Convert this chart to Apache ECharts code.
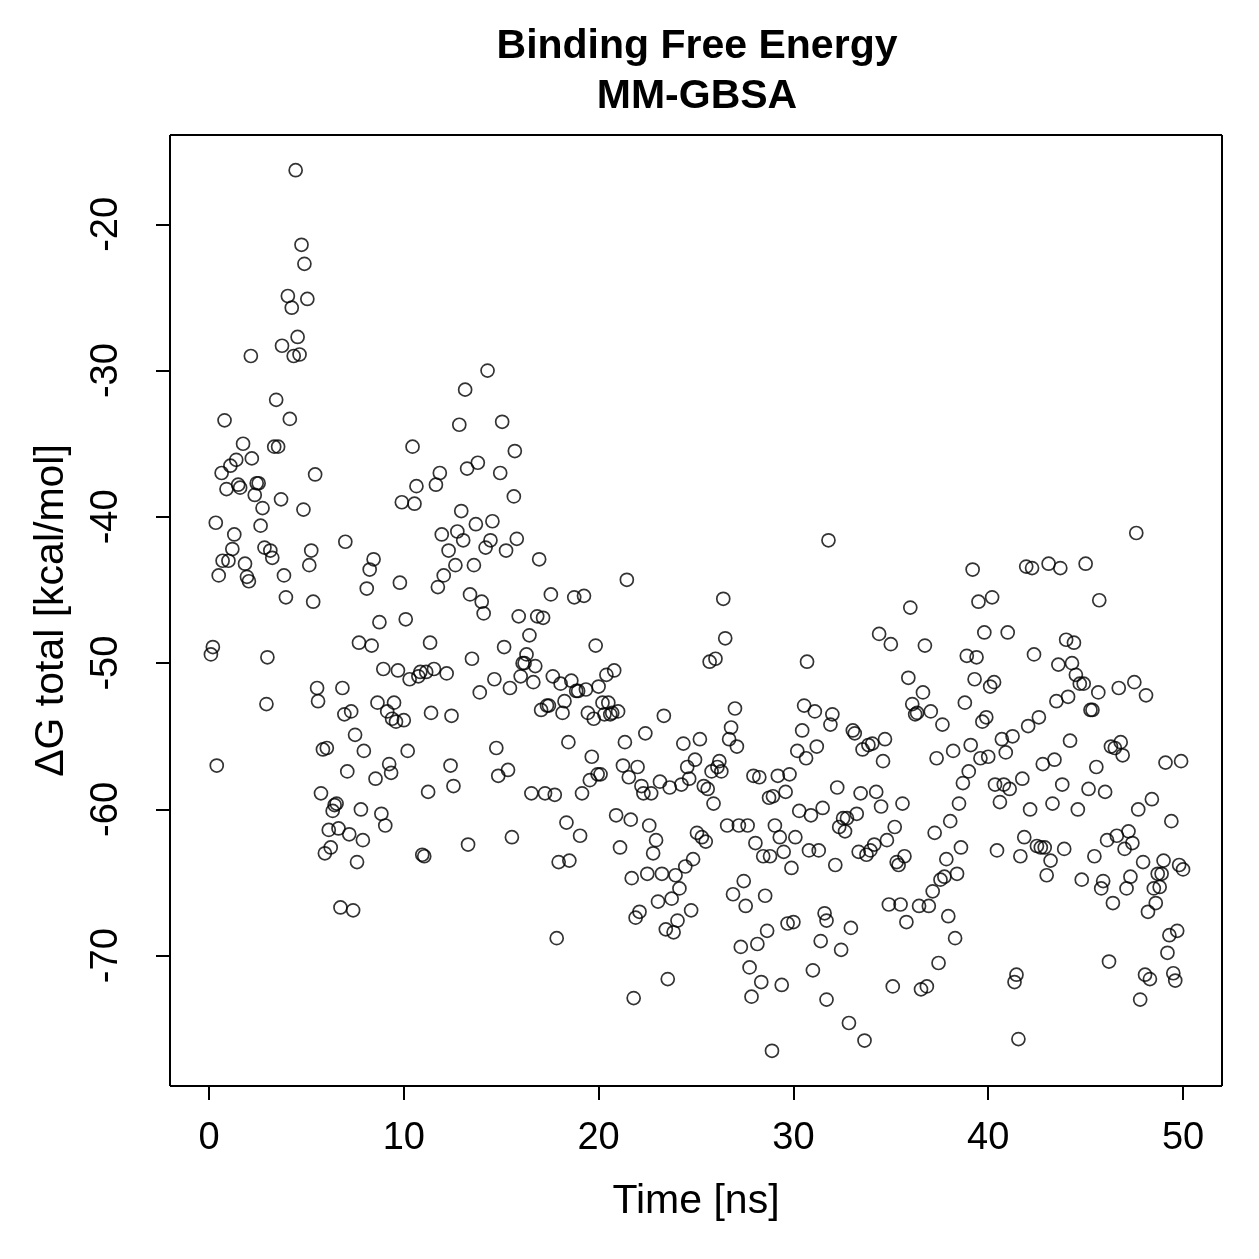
<!DOCTYPE html>
<html>
<head>
<meta charset="utf-8">
<script src="https://cdn.jsdelivr.net/npm/echarts@6/dist/echarts.min.js"></script>
<style>
html,body{margin:0;padding:0;background:#fff;}
#chart{width:1259px;height:1259px;}
</style>
</head>
<body>
<div id="chart"></div>
<script>
const titleLines = ["Binding Free Energy", "MM-GBSA"];
const xLabel = "Time [ns]";
const yLabel = "\u0394G total [kcal/mol]";
const xTicks = [0, 10, 20, 30, 40, 50];
const yTicks = [-70, -60, -50, -40, -30, -20];

const timeNs = [
0.1,0.2,0.35,0.4,0.5,0.65,0.7,0.8,0.9,1.0,
1.1,1.2,1.3,1.4,1.5,1.6,1.75,1.85,1.95,2.05,
2.15,2.2,2.35,2.45,2.55,2.65,2.75,2.85,2.95,3.0,
3.15,3.25,3.35,3.45,3.55,3.7,3.75,3.85,3.95,4.05,
4.15,4.25,4.35,4.45,4.55,4.65,4.75,4.85,4.9,5.05,
5.15,5.25,5.35,5.45,5.55,5.6,5.75,5.85,5.95,6.05,
6.15,6.25,6.35,6.45,6.55,6.65,6.75,6.85,6.95,7.0,
7.1,7.2,7.3,7.4,7.5,7.6,7.7,7.8,7.9,7.95,
8.1,8.25,8.35,8.45,8.55,8.65,8.75,8.85,8.95,9.05,
9.15,9.25,9.35,9.4,9.5,9.6,9.7,9.8,9.9,10.0,
10.1,10.2,10.3,10.45,10.55,10.65,10.75,10.85,10.95,11.05,
11.15,11.25,11.35,11.4,11.55,11.65,11.75,11.85,11.95,12.05,
12.2,12.3,12.4,12.45,12.55,12.65,12.75,12.85,12.95,13.05,
13.15,13.25,13.3,13.4,13.5,13.6,13.7,13.8,13.9,14.0,
14.1,14.2,14.3,14.45,14.55,14.65,14.75,14.85,14.95,15.05,
15.15,15.25,15.35,15.45,15.55,15.65,15.7,15.8,15.9,16.0,
16.1,16.2,16.3,16.45,16.55,16.65,16.75,16.85,16.95,17.05,
17.15,17.25,17.35,17.45,17.55,17.65,17.75,17.85,17.95,18.05,
18.15,18.25,18.35,18.45,18.5,18.6,18.75,18.85,18.95,19.05,
19.15,19.25,19.35,19.45,19.55,19.65,19.75,19.85,19.95,20.0,
20.1,20.2,20.3,20.4,20.5,20.6,20.7,20.8,20.9,21.0,
21.1,21.25,21.35,21.45,21.55,21.65,21.7,21.8,21.9,22.0,
22.1,22.2,22.3,22.4,22.5,22.6,22.7,22.8,22.95,23.05,
23.15,23.25,23.35,23.45,23.55,23.65,23.75,23.85,23.95,24.05,
24.15,24.25,24.35,24.45,24.55,24.65,24.75,24.85,24.95,25.05,
25.2,25.3,25.4,25.5,25.6,25.7,25.8,25.9,26.0,26.1,
26.2,26.3,26.4,26.5,26.6,26.7,26.8,26.9,27.0,27.1,
27.2,27.3,27.45,27.55,27.65,27.75,27.85,27.95,28.05,28.15,
28.25,28.35,28.45,28.55,28.65,28.75,28.8,28.9,28.95,29.05,
29.2,29.3,29.4,29.5,29.6,29.7,29.8,29.9,30.0,30.1,
30.2,30.3,30.45,30.55,30.65,30.7,30.8,30.9,31.0,31.1,
31.2,31.3,31.4,31.5,31.6,31.7,31.7,31.8,31.9,32.0,
32.15,32.25,32.35,32.45,32.55,32.65,32.75,32.85,32.95,33.05,
33.15,33.25,33.35,33.45,33.55,33.65,33.75,33.85,33.95,34.05,
34.15,34.25,34.4,34.5,34.6,34.7,34.8,34.9,35.0,35.1,
35.2,35.3,35.4,35.5,35.6,35.7,35.8,35.9,36.0,36.1,
36.25,36.35,36.45,36.55,36.65,36.75,36.85,36.95,37.05,37.15,
37.25,37.35,37.45,37.55,37.65,37.75,37.85,37.95,38.05,38.2,
38.3,38.4,38.5,38.6,38.7,38.8,38.9,39.0,39.1,39.2,
39.3,39.4,39.5,39.6,39.7,39.8,39.9,40.0,40.1,40.2,
40.3,40.35,40.45,40.6,40.7,40.8,40.9,41.0,41.1,41.25,
41.35,41.45,41.55,41.65,41.75,41.85,41.95,42.05,42.15,42.25,
42.35,42.5,42.6,42.7,42.8,42.9,43.0,43.1,43.2,43.3,
43.4,43.5,43.6,43.7,43.8,43.9,44.0,44.1,44.2,44.3,
44.4,44.5,44.6,44.7,44.8,44.9,45.0,45.15,45.25,45.35,
45.45,45.55,45.65,45.7,45.8,45.9,46.0,46.1,46.2,46.3,
46.4,46.5,46.6,46.7,46.8,46.9,47.0,47.1,47.2,47.3,
47.4,47.5,47.6,47.7,47.8,47.95,48.05,48.1,48.2,48.3,
48.4,48.5,48.6,48.7,48.8,48.9,49.0,49.1,49.2,49.3,
49.4,49.5,49.6,49.7,49.8,49.9,50.0
];

const dG = [
-49.4,-48.9,-40.4,-57.0,-44.0,-37.0,-43.0,-33.4,-38.1,-43.0,
-36.5,-42.2,-41.2,-36.1,-37.8,-38.0,-35.0,-43.2,-44.1,-44.4,
-29.0,-36.0,-38.5,-37.7,-37.7,-40.6,-39.4,-42.1,-52.8,-49.6,
-42.3,-42.8,-35.2,-32.0,-35.2,-38.8,-28.3,-44.0,-45.5,-24.9,
-33.3,-25.7,-29.0,-16.3,-27.7,-28.9,-21.4,-39.5,-22.7,-25.1,
-43.3,-42.3,-45.8,-37.1,-51.7,-52.6,-58.9,-55.9,-63.0,-55.8,
-61.4,-62.6,-60.1,-59.7,-59.6,-61.3,-66.7,-51.7,-53.5,-41.7,
-57.4,-61.7,-53.3,-66.9,-54.9,-63.6,-48.6,-60.0,-62.1,-56.0,
-44.9,-43.6,-48.8,-42.9,-57.9,-52.7,-47.2,-60.3,-50.4,-61.1,
-53.3,-56.9,-57.5,-53.8,-52.7,-54.0,-50.5,-44.5,-39.0,-53.9,
-47.0,-56.0,-51.1,-35.2,-39.1,-37.9,-50.9,-50.6,-63.1,-63.2,
-50.6,-58.8,-48.6,-53.4,-50.4,-37.8,-44.8,-37.0,-41.2,-44.0,
-50.7,-42.3,-57.0,-53.6,-58.4,-43.3,-41.0,-33.7,-39.6,-41.6,
-31.3,-36.7,-62.4,-45.3,-49.7,-43.3,-40.5,-36.3,-52.0,-45.8,
-46.6,-42.1,-30.0,-41.6,-40.3,-51.1,-55.8,-57.7,-37.0,-33.5,
-48.9,-42.3,-57.3,-51.7,-61.9,-38.6,-35.5,-41.5,-46.8,-50.9,
-50.0,-50.0,-49.4,-48.1,-58.9,-51.3,-50.2,-46.8,-42.9,-53.2,
-46.9,-58.9,-52.9,-52.9,-45.3,-50.9,-59.0,-68.8,-63.6,-51.4,
-53.4,-52.6,-60.9,-55.4,-63.5,-51.2,-45.5,-51.9,-51.9,-61.8,
-58.9,-45.4,-51.8,-53.4,-58.0,-56.4,-53.8,-48.8,-57.6,-51.6,
-57.6,-52.7,-53.5,-50.8,-52.7,-53.5,-53.4,-50.5,-60.4,-53.3,
-62.6,-57.0,-55.4,-44.3,-57.8,-60.7,-64.7,-72.9,-67.4,-57.1,
-67.0,-58.4,-58.9,-54.8,-64.4,-61.1,-58.9,-63.0,-62.1,-66.3,
-58.1,-64.4,-53.6,-68.2,-71.6,-58.5,-66.1,-68.4,-64.5,-67.6,
-65.4,-58.3,-55.5,-63.9,-57.1,-57.9,-66.9,-63.4,-56.6,-61.6,
-55.2,-61.9,-58.4,-62.2,-58.6,-49.9,-57.4,-59.6,-49.7,-57.1,
-56.7,-57.4,-45.6,-48.3,-61.1,-55.2,-54.4,-65.8,-53.1,-55.7,
-61.1,-69.4,-64.9,-66.6,-61.1,-70.8,-72.8,-57.7,-62.3,-69.2,
-57.8,-71.8,-63.2,-65.9,-68.3,-59.2,-63.2,-76.5,-59.1,-61.1,
-57.7,-61.9,-72.0,-62.9,-58.8,-67.8,-57.6,-64.0,-67.7,-61.9,
-56.0,-60.1,-54.6,-52.9,-56.5,-49.9,-62.8,-60.4,-71.0,-53.3,
-55.7,-62.8,-69.0,-59.9,-67.1,-73.0,-67.6,-41.6,-54.2,-53.5,
-63.8,-58.5,-61.2,-69.6,-60.6,-61.5,-60.6,-74.6,-68.1,-54.6,
-54.8,-60.3,-62.9,-58.9,-55.9,-75.8,-63.1,-55.6,-62.8,-55.5,
-62.4,-58.8,-48.0,-59.8,-56.7,-55.2,-62.1,-66.5,-48.7,-72.1,
-61.2,-63.6,-63.8,-66.5,-59.6,-63.2,-67.7,-51.0,-46.2,-52.8,
-53.5,-53.4,-66.6,-72.3,-52.0,-48.8,-72.1,-66.6,-53.3,-65.6,
-61.6,-56.5,-70.5,-64.8,-54.2,-64.6,-63.4,-67.3,-60.8,-56.0,
-68.8,-64.4,-59.6,-62.6,-58.2,-52.7,-49.5,-57.4,-55.6,-43.6,
-51.1,-49.6,-45.8,-56.5,-54.0,-47.9,-53.7,-56.4,-51.6,-45.5,
-51.3,-58.3,-62.8,-59.5,-55.2,-58.3,-56.1,-47.9,-58.6,-55.0,
-71.8,-71.3,-75.7,-63.2,-57.9,-61.9,-43.4,-54.3,-60.0,-43.5,
-49.4,-62.5,-53.7,-62.6,-56.9,-62.6,-64.5,-43.2,-63.5,-59.6,
-56.6,-52.6,-50.1,-43.5,-58.3,-62.7,-48.4,-52.3,-55.3,-50.0,
-48.6,-50.8,-60.0,-51.4,-64.8,-51.4,-43.2,-58.6,-53.2,-53.2,
-63.2,-57.1,-52.0,-45.7,-65.4,-64.9,-58.8,-62.1,-70.4,-55.7,
-66.4,-55.8,-61.8,-51.7,-55.4,-56.3,-62.7,-65.4,-61.5,-64.6,
-62.3,-51.3,-41.1,-60.0,-73.0,-63.6,-71.3,-52.2,-67.0,-71.6,
-59.3,-65.4,-66.4,-64.4,-65.3,-64.4,-63.5,-56.8,-69.8,-68.6,
-60.8,-71.2,-71.7,-68.3,-63.8,-56.7,-64.1
];

const n = Math.min(timeNs.length, dG.length);
const points = [];
for (let i = 0; i < n; i++) points.push([timeNs[i], dG[i]]);

// R-style 4% axis padding: the plotting box spans these data limits
const xMin = 0 - 0.04 * 50, xMax = 50 + 0.04 * 50;
const yDataMin = Math.min(...dG), yDataMax = Math.max(...dG);
const yMin = yDataMin - 0.04 * (yDataMax - yDataMin);
const yMax = yDataMax + 0.04 * (yDataMax - yDataMin);

// layout: plotting box plus an outer band (tick length) so outward ticks lie in the grid
const W = 1259, H = 1259;
const BOX = {left: 170, right: 37, top: 135, bottom: 173};
const TICK_LEN = 14;
const boxW = W - BOX.left - BOX.right, boxH = H - BOX.top - BOX.bottom;
const xAxisMin = xMin - TICK_LEN * (xMax - xMin) / boxW;
const yAxisMin = yMin - TICK_LEN * (yMax - yMin) / boxH;

const FONT = '"Liberation Sans", Arial, Helvetica, sans-serif';
const frameAndTicks = [
  [{coord: [xMin, yMin]}, {coord: [xMax, yMin]}],
  [{coord: [xMin, yMax]}, {coord: [xMax, yMax]}],
  [{coord: [xMin, yMin]}, {coord: [xMin, yMax]}],
  [{coord: [xMax, yMin]}, {coord: [xMax, yMax]}]
];
xTicks.forEach(t => frameAndTicks.push([{coord: [t, yAxisMin]}, {coord: [t, yMin]}]));
yTicks.forEach(v => frameAndTicks.push([{coord: [xAxisMin, v]}, {coord: [xMin, v]}]));

const chart = echarts.init(document.getElementById('chart'), null, {renderer: 'canvas'});
chart.setOption({
  backgroundColor: '#ffffff',
  animation: false,
  title: {
    text: titleLines.join('\n'),
    left: 692,
    top: 17,
    textAlign: 'center',
    textStyle: {fontFamily: FONT, fontWeight: 'bold', fontSize: 41, lineHeight: 50, color: '#000'}
  },
  grid: {left: BOX.left - TICK_LEN, right: BOX.right, top: BOX.top, bottom: BOX.bottom - TICK_LEN, show: false},
  xAxis: {
    type: 'value', min: xAxisMin, max: xMax, position: 'bottom',
    name: xLabel, nameLocation: 'middle', nameGap: 81,
    nameTextStyle: {fontFamily: FONT, fontSize: 41, color: '#000', padding: [0, 0, 0, TICK_LEN]},
    axisLine: {show: false, onZero: false},
    splitLine: {show: false},
    axisTick: {show: false},
    axisLabel: {show: true, margin: 20, fontFamily: FONT, fontSize: 38, color: '#000', customValues: xTicks}
  },
  yAxis: {
    type: 'value', min: yAxisMin, max: yMax, position: 'left',
    name: yLabel, nameLocation: 'middle', nameGap: 84, nameRotate: 90,
    nameTextStyle: {fontFamily: FONT, fontSize: 41, color: '#000', padding: [0, 0, 0, TICK_LEN]},
    axisLine: {show: false, onZero: false},
    splitLine: {show: false},
    axisTick: {show: false},
    axisLabel: {show: true, margin: 30, rotate: 90, fontFamily: FONT, fontSize: 38, color: '#000', customValues: yTicks}
  },
  series: [{
    type: 'scatter',
    clip: false,
    data: points,
    symbol: 'circle',
    symbolSize: 13,
    itemStyle: {color: 'rgba(0,0,0,0)', borderColor: '#000', borderWidth: 1.7},
    emphasis: {disabled: true},
    markLine: {
      silent: true,
      animation: false,
      symbol: ['none', 'none'],
      label: {show: false},
      lineStyle: {type: 'solid', color: '#000', width: 2},
      emphasis: {disabled: true},
      data: frameAndTicks
    }
  }]
});
</script>
</body>
</html>
